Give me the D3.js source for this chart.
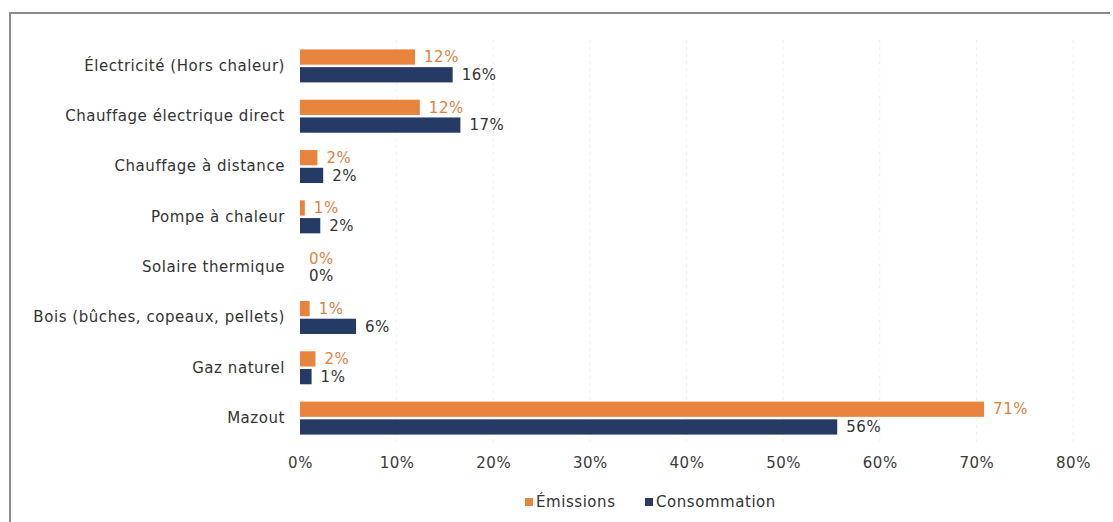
<!DOCTYPE html>
<html>
<head>
<meta charset="utf-8">
<script src="https://cdn.jsdelivr.net/npm/d3@7"></script>
<style>
  html, body { margin: 0; padding: 0; background: #fff; }
  svg { display: block; font-family: "DejaVu Sans", "Noto Sans", sans-serif; }
</style>
</head>
<body>
<svg id="chart" width="1113" height="522"></svg>
<script>
// Energy sources and their shares of emissions vs. consumption (percent)
const categories = [
  "Électricité (Hors chaleur)",
  "Chauffage électrique direct",
  "Chauffage à distance",
  "Pompe à chaleur",
  "Solaire thermique",
  "Bois (bûches, copeaux, pellets)",
  "Gaz naturel",
  "Mazout"
];
const seriesNames = ["Émissions", "Consommation"];
const emissions    = [11.9, 12.4, 1.8, 0.5, 0.0, 1.0, 1.6, 70.8];
const consommation = [15.8, 16.6, 2.4, 2.1, 0.0, 5.8, 1.2, 55.6];
const xTicks = [0, 10, 20, 30, 40, 50, 60, 70, 80];

const colors = { "Émissions": "#E8843E", "Consommation": "#263A66" };
const labelColors = { "Émissions": "#E0823F", "Consommation": "#333333" };
const FONT = "\"DejaVu Sans\", sans-serif";
const FS = 15;
const LS = "0.55px";

const rows = categories.map((c, i) => ({
  category: c,
  values: [
    { series: seriesNames[0], value: emissions[i] },
    { series: seriesNames[1], value: consommation[i] }
  ]
}));

const svg = d3.select("#chart");

// Frame lines along the top and left edge
svg.append("line").attr("x1", 10).attr("x2", 1110).attr("y1", 13).attr("y2", 13)
  .attr("stroke", "#8a8a8a").attr("stroke-width", 2);
svg.append("line").attr("x1", 10).attr("x2", 10).attr("y1", 12).attr("y2", 522)
  .attr("stroke", "#8a8a8a").attr("stroke-width", 2);

const x = d3.scaleLinear().domain([0, 80]).range([300, 1073]);
const y = d3.scaleBand().domain(categories).range([41, 443])
  .paddingInner(0.344).paddingOuter(0.167);
const ySub = d3.scaleBand().domain(seriesNames).range([0, y.bandwidth()]).paddingInner(0.14);

// Very faint dashed gridlines
svg.append("g").selectAll("line").data(xTicks.slice(1)).join("line")
  .attr("x1", d => x(d)).attr("x2", d => x(d))
  .attr("y1", 40).attr("y2", 445)
  .attr("stroke", "#f0f0f0").attr("stroke-dasharray", "3,4");

// Bottom axis (labels only)
const xAxis = d3.axisBottom(x).tickValues(xTicks).tickFormat(d => d + "%").tickSize(0).tickPadding(0);
const gx = svg.append("g").attr("transform", "translate(0,457)").call(xAxis);
gx.select(".domain").remove();
gx.selectAll("text").attr("font-size", FS).attr("fill", "#3a3a3a")
  .attr("font-family", FONT).attr("letter-spacing", LS);

// Category axis (labels only)
const yAxis = d3.axisLeft(y).tickSize(0).tickPadding(15);
const gy = svg.append("g").attr("transform", "translate(300,0)").call(yAxis);
gy.select(".domain").remove();
gy.selectAll("text").attr("font-size", FS).attr("fill", "#333")
  .attr("font-family", FONT).attr("letter-spacing", LS);

// Bars
const groups = svg.append("g").selectAll("g").data(rows).join("g")
  .attr("transform", d => `translate(0,${y(d.category)})`);

groups.selectAll("rect").data(d => d.values).join("rect")
  .attr("x", x(0))
  .attr("y", d => ySub(d.series))
  .attr("width", d => x(d.value) - x(0))
  .attr("height", ySub.bandwidth())
  .attr("fill", d => colors[d.series]);

groups.selectAll("text").data(d => d.values).join("text")
  .attr("x", d => x(d.value) + 9)
  .attr("y", d => ySub(d.series) + ySub.bandwidth() / 2)
  .attr("dy", "0.35em")
  .attr("font-size", FS)
  .attr("letter-spacing", LS)
  .attr("fill", d => labelColors[d.series])
  .text(d => Math.round(d.value) + "%");

// Legend
const legend = svg.append("g").attr("transform", "translate(0,502)");
const legendItems = [
  { name: seriesNames[0], x: 525 },
  { name: seriesNames[1], x: 645 }
];
const li = legend.selectAll("g").data(legendItems).join("g")
  .attr("transform", d => `translate(${d.x},0)`);
li.append("rect").attr("x", 0).attr("y", -4).attr("width", 8).attr("height", 8)
  .attr("fill", d => colors[d.name]);
li.append("text").attr("x", 11).attr("dy", "0.35em").attr("font-size", FS)
  .attr("letter-spacing", LS)
  .attr("fill", "#333").text(d => d.name);
</script>
</body>
</html>
